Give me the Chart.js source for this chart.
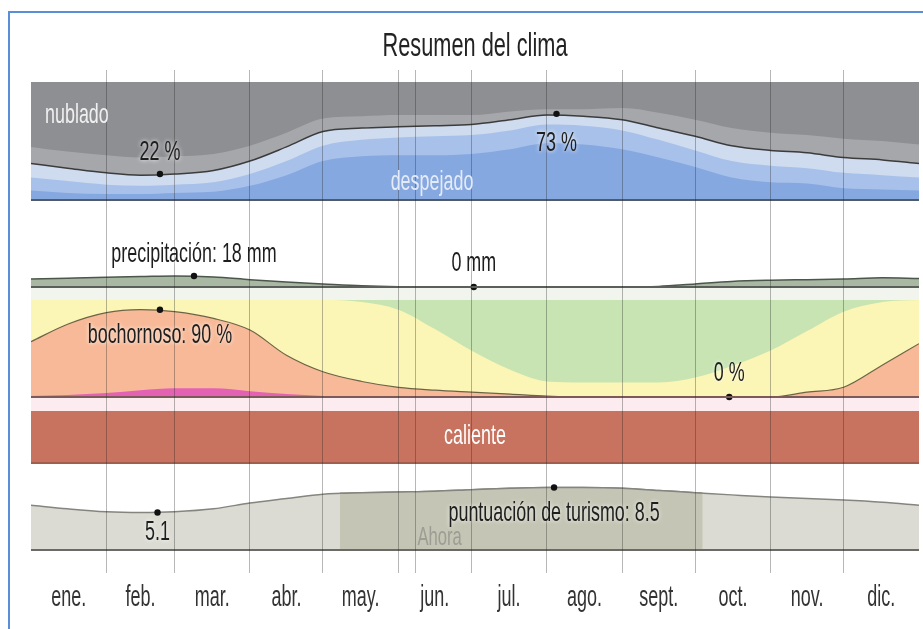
<!DOCTYPE html>
<html>
<head>
<meta charset="utf-8">
<script src="https://cdn.jsdelivr.net/npm/chart.js@4.4.0/dist/chart.umd.min.js"></script>
<style>
	html, body { margin: 0; padding: 0; background: #fff; }
	#wrap { position: relative; width: 923px; height: 629px; overflow: hidden; }
	#frame { position: absolute; left: 8px; top: 11px; width: 940px; height: 700px; border-left: 2px solid #5b8ed8; border-top: 2px solid #5b8ed8; }
	canvas { position: absolute; left: 0; top: 0; }
</style>
</head>
<body>
<div id="wrap">
	<div id="frame"></div>
	<canvas id="clima" width="923" height="629"></canvas>
</div>
<script>
// ---- datos ----
const monthLabels = ['ene.', 'feb.', 'mar.', 'abr.', 'may.', 'jun.', 'jul.', 'ago.', 'sept.', 'oct.', 'nov.', 'dic.'];
const monthStarts = [0, 31, 59, 90, 120, 151, 181, 212, 243, 273, 304, 334, 365];
const todayDay = 158;

// dias del año donde se leyeron los valores
const days = [0, 15, 31, 45, 59, 75, 90, 105, 120, 136, 151, 166, 181, 197, 212, 227, 243, 258, 273, 288, 304, 319, 334, 350, 365];

// nubes: % acumulado desde abajo (despejado -> nublado)
const cloudClear = [8, 6, 5, 5, 6, 7, 12, 21, 33, 37, 38, 38, 39, 43, 48, 47, 43, 36, 28, 19, 15, 14, 10, 9, 8];
const cloudMostlyClear = [19, 16, 13, 12, 13, 15, 22, 33, 46, 51, 53, 54, 55, 59, 64, 63, 59, 51, 42, 33, 29, 27, 23, 21, 19];
const cloudPartly = [31, 27, 23, 21, 22, 25, 33, 45, 58, 61, 62, 63, 64, 68, 72, 71, 68, 61, 54, 46, 42, 40, 36, 34, 31];
const cloudMostlyCloudy = [45, 41, 38, 36, 37, 39, 46, 57, 69, 71, 72, 72, 72, 75, 77, 77, 78, 74, 68, 61, 57, 55, 52, 50, 47];

// precipitacion (mm)
const precipMm = [13, 14.5, 16, 17, 18, 16.5, 12, 8, 5, 2, 0.5, 0, 0, 0, 0, 0, 0, 1, 5, 9, 11, 12, 13, 15, 14];

// humedad: % acumulado desde abajo
const humMiserable = [1, 2, 4, 7, 9, 9, 6, 3, 1, 0.5, 0, 0, 0, 0, 0, 0, 0, 0, 0, 0, 0, 0, 0, 0.5, 1];
const humMuggy = [57, 75, 87, 90, 88, 81, 69, 43, 26, 16, 10, 7, 5, 3, 1, 0, 0, 0, 0, 0, 0, 5, 10, 33, 55];
const humHumid = [100, 100, 100, 100, 100, 100, 100, 100, 100, 98, 90, 70, 48, 28, 16, 15, 15, 15, 20, 32, 48, 68, 88, 98, 100];

// temperatura: caliente todo el año
const tempDays = [0, 365];
const tempHot = [100, 100];

// puntuacion de turismo (0-10)
const tourism = [6.1, 5.6, 5.2, 5.1, 5.2, 5.6, 6.4, 7.0, 7.6, 7.8, 7.9, 8.0, 8.2, 8.4, 8.5, 8.5, 8.4, 8.1, 7.8, 7.5, 7.2, 7.0, 6.8, 6.5, 6.1];
const bestStart = 127;
const bestEnd = 276;

// puntos marcados
const cloudMarkDays = [53, 216];
const cloudMarkVals = [22, 73];
const precipMarkDays = [67, 182];
const precipMarkVals = [18, 0];
const humMarkDays = [53, 287];
const humMarkVals = [90, 0];
const tourMarkDays = [52, 215];
const tourMarkVals = [5.1, 8.5];

// ---- posicion de cada franja (valor, pixel, valor, pixel) ----
const bands = {
	yc: [0, 200, 100, 82],
	yp: [0, 287, 18, 276],
	yh: [0, 397, 100, 300],
	yt: [0, 463, 100, 411],
	yo: [0, 550, 10, 476.5]
};

const FONT = '"Liberation Sans", Arial, sans-serif';
Chart.defaults.font.family = FONT;

function pts(xs, ys) {
	return xs.map(function (x, i) { return { x: x, y: ys[i] }; });
}

// min/max of a hidden axis so the band lands on its pixels
function bandRange(id, top, bottom) {
	const b = bands[id];
	const k = (b[1] - b[3]) / (b[2] - b[0]);
	return { min: b[0] - (bottom - b[1]) / k, max: b[0] + (b[1] - top) / k };
}

function bandAxis(id) {
	const r = bandRange(id, 70, 573);
	return { type: 'linear', display: false, min: r.min, max: r.max };
}

function area(label, xs, ys, axis, color, line, lw) {
	return {
		label: label,
		data: pts(xs, ys),
		yAxisID: axis,
		fill: { value: 0 },
		backgroundColor: color,
		borderColor: line || 'rgba(0,0,0,0)',
		borderWidth: line ? (lw || 1.5) : 0,
		pointRadius: 0,
		cubicInterpolationMode: 'monotone'
	};
}

function marks(xs, ys, axis) {
	return {
		data: pts(xs, ys),
		yAxisID: axis,
		showLine: false,
		pointRadius: 3.2,
		pointBackgroundColor: '#111',
		pointBorderWidth: 0
	};
}

const datasets = [
	marks(cloudMarkDays, cloudMarkVals, 'yc'),
	marks(precipMarkDays, precipMarkVals, 'yp'),
	marks(humMarkDays, humMarkVals, 'yh'),
	marks(tourMarkDays, tourMarkVals, 'yo'),
	area('despejado', days, cloudClear, 'yc', '#86a8e0'),
	area('mayormente despejado', days, cloudMostlyClear, 'yc', '#a7c1ea'),
	area('parcialmente nublado', days, cloudPartly, 'yc', '#cfdbee', '#3c3c3c', 1.5),
	area('mayormente nublado', days, cloudMostlyCloudy, 'yc', '#a6a7ab'),
	area('precipitación', days, precipMm, 'yp', '#a8b8a3', '#4b574b', 1.5),
	area('agobiante', days, humMiserable, 'yh', '#e462b4'),
	area('bochornoso', days, humMuggy, 'yh', '#f7b997', '#6d6446', 1.2),
	area('húmedo', days, humHumid, 'yh', '#fbf5b6'),
	area('caliente', tempDays, tempHot, 'yt', '#c7735f'),
	Object.assign(area('mejor época', days, tourism, 'yo', '#c4c5b4', '#85857f', 1.5), { bestClip: true }),
	Object.assign(area('turismo', days, tourism, 'yo', '#dbdbd3', '#85857f', 1.5), { clipAfter: true })
];

// text squeezed sideways, like the original picture
function drawText(ctx, txt, x, y, size, color, align, glow, sx) {
	ctx.save();
	ctx.font = size + 'px ' + FONT;
	ctx.translate(x, y);
	ctx.scale(sx || 0.64, 1);
	ctx.textAlign = align || 'center';
	ctx.textBaseline = 'middle';
	if (glow) {
		ctx.shadowColor = 'rgba(255,255,255,0.95)';
		ctx.shadowBlur = 4;
	}
	ctx.fillStyle = color;
	ctx.fillText(txt, 0, 0);
	ctx.restore();
}

const bandPlugin = {
	id: 'bandas',
	beforeDatasetsDraw: function (chart) {
		const ctx = chart.ctx;
		const a = chart.chartArea;
		const s = chart.scales;
		function rect(top, bottom, color) {
			ctx.fillStyle = color;
			ctx.fillRect(a.left, top, a.right - a.left, bottom - top);
		}
		rect(s.yc.getPixelForValue(100), s.yc.getPixelForValue(0), '#8e8f93');
		rect(s.yp.getPixelForValue(0) + 1, s.yh.getPixelForValue(100), '#f1f5ee');
		rect(s.yh.getPixelForValue(100), s.yh.getPixelForValue(0), '#c7e4b2');
		rect(s.yh.getPixelForValue(0), s.yt.getPixelForValue(100), '#fcecef');
	},
	afterDatasetsDraw: function (chart) {
		const ctx = chart.ctx;
		const a = chart.chartArea;
		const s = chart.scales;
		function base(y, color) {
			ctx.strokeStyle = color;
			ctx.lineWidth = 2;
			ctx.beginPath();
			ctx.moveTo(a.left, y);
			ctx.lineTo(a.right, y);
			ctx.stroke();
		}
		base(s.yc.getPixelForValue(0), '#4f5a6b');
		base(s.yp.getPixelForValue(0), '#5a5f5a');
		base(s.yh.getPixelForValue(0), '#7d5a5a');
		base(s.yt.getPixelForValue(0), '#a15e4e');
		base(s.yo.getPixelForValue(0), '#6a6a66');
	},
	// the best-season fill is clipped to its months
	afterDatasetDraw: function (chart, args) {
		const ds = chart.data.datasets[args.index];
		const ctx = chart.ctx;
		if (ds.clipAfter) {
			const x = chart.scales.x;
			const a = chart.chartArea;
			const x0 = x.getPixelForValue(bestStart);
			const x1 = x.getPixelForValue(bestEnd);
			ctx.save();
			ctx.beginPath();
			ctx.rect(x0, a.top, x1 - x0, a.bottom - a.top);
			ctx.clip();
		} else if (ds.bestClip) {
			ctx.restore();
		}
	},
	afterDraw: function (chart) {
		const ctx = chart.ctx;
		const s = chart.scales;
		const x = s.x;
		const dark = '#1e1e1e';

		drawText(ctx, 'Resumen del clima', 475, 47, 34, '#222');
		drawText(ctx, 'nublado', 45, 115, 28, '#f0f0f0', 'left');
		drawText(ctx, 'despejado', 432, 182, 28, '#e4ebf7');
		drawText(ctx, 'caliente', 475, 436, 28, '#fff');
		drawText(ctx, 'Ahora', x.getPixelForValue(todayDay) + 2, 538, 26, '#9d9d94', 'left');

		// month names under the bands
		monthLabels.forEach(function (m, i) {
			const mid = (monthStarts[i] + monthStarts[i + 1]) / 2;
			drawText(ctx, m, x.getPixelForValue(mid), 598, 30, '#333', 'center', false, 0.6);
		});

		function lab(axis, day, v, txt, dy) {
			drawText(ctx, txt, x.getPixelForValue(day), s[axis].getPixelForValue(v) + dy, 28, dark, 'center', true);
		}
		lab('yc', cloudMarkDays[0], cloudMarkVals[0], cloudMarkVals[0] + ' %', -22);
		lab('yc', cloudMarkDays[1], cloudMarkVals[1], cloudMarkVals[1] + ' %', 29);
		lab('yp', precipMarkDays[0], precipMarkVals[0], 'precipitación: ' + precipMarkVals[0] + ' mm', -22);
		lab('yp', precipMarkDays[1], precipMarkVals[1], precipMarkVals[1] + ' mm', -24);
		lab('yh', humMarkDays[0], humMarkVals[0], 'bochornoso: ' + humMarkVals[0] + ' %', 26);
		lab('yh', humMarkDays[1], humMarkVals[1], humMarkVals[1] + ' %', -24);
		lab('yo', tourMarkDays[0], tourMarkVals[0], String(tourMarkVals[0]), 20);
		lab('yo', tourMarkDays[1], tourMarkVals[1], 'puntuación de turismo: ' + tourMarkVals[1], 26);
	}
};

const gridTicks = monthStarts.slice(1, 12).concat([todayDay]);

const chart = new Chart(document.getElementById('clima'), {
	type: 'line',
	data: { datasets: datasets },
	options: {
		responsive: false,
		animation: false,
		events: [],
		layout: { padding: { left: 31, right: 4, top: 70, bottom: 56 } },
		plugins: { legend: { display: false }, tooltip: { enabled: false } },
		scales: {
			x: {
				type: 'linear', min: 0, max: 365, position: 'bottom',
				grid: { color: 'rgba(30,30,30,0.32)', lineWidth: 1, drawTicks: false, z: 1 },
				border: { display: false },
				ticks: { display: false },
				afterBuildTicks: function (scale) {
					scale.ticks = gridTicks.map(function (v) { return { value: v }; });
				}
			},
			yc: bandAxis('yc'),
			yp: bandAxis('yp'),
			yh: bandAxis('yh'),
			yt: bandAxis('yt'),
			yo: bandAxis('yo')
		}
	},
	plugins: [bandPlugin]
});

// adjust the hidden axes to the real chart area
Object.keys(bands).forEach(function (id) {
	const r = bandRange(id, chart.chartArea.top, chart.chartArea.bottom);
	chart.options.scales[id].min = r.min;
	chart.options.scales[id].max = r.max;
});
chart.update('none');
</script>
</body>
</html>
